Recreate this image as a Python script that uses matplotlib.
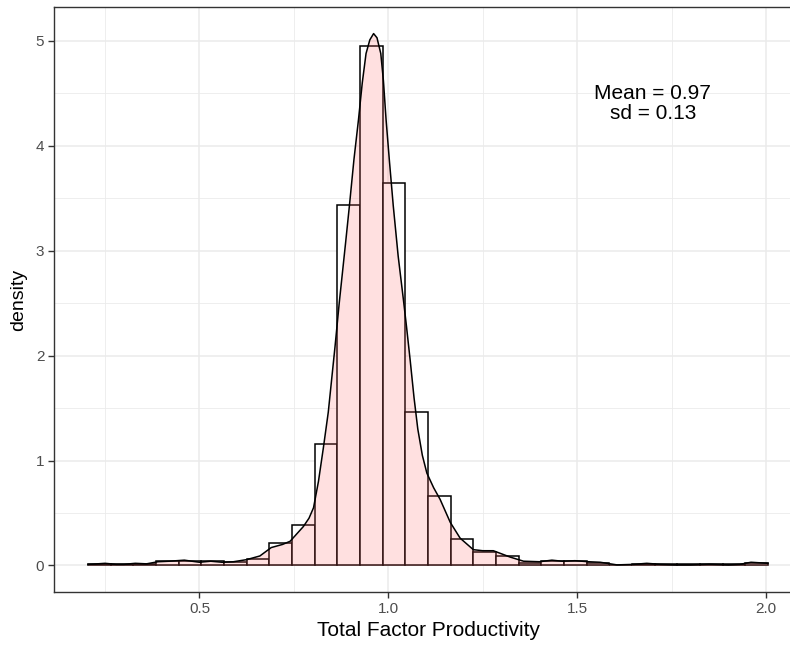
import matplotlib
matplotlib.use("Agg")
import matplotlib.pyplot as plt
import numpy as np

#--- Data
bin_start = 0.205
bin_width = 0.06
hist_density = [0.01, 0.01, 0.01, 0.04, 0.04, 0.04, 0.03, 0.06, 0.21, 0.39,
                1.16, 3.44, 4.95, 3.65, 1.46, 0.66, 0.25, 0.13, 0.09, 0.02,
                0.04, 0.04, 0.02, 0.005, 0.01, 0.01, 0.01, 0.01, 0.01, 0.02]

kde_x = [0.205, 0.23, 0.25, 0.28, 0.30, 0.33, 0.36, 0.39, 0.42, 0.46, 0.50,
         0.53, 0.56, 0.59, 0.625, 0.66, 0.69, 0.72, 0.74, 0.76, 0.775, 0.79,
         0.802, 0.815, 0.828, 0.841, 0.859, 0.870, 0.887, 0.897, 0.909, 0.921,
         0.931, 0.941, 0.951, 0.961, 0.970, 0.980, 0.987, 0.994, 1.003, 1.013,
         1.026, 1.040, 1.048, 1.058, 1.068, 1.078, 1.090, 1.102, 1.12, 1.137,
         1.164, 1.19, 1.225, 1.25, 1.278, 1.30, 1.322, 1.358, 1.40, 1.433,
         1.46, 1.494, 1.53, 1.561, 1.605, 1.65, 1.684, 1.72, 1.76, 1.80, 1.85,
         1.90, 1.93, 1.96, 2.005]
kde_y = [0.01, 0.015, 0.02, 0.01, 0.01, 0.02, 0.015, 0.035, 0.04, 0.05, 0.03,
         0.04, 0.03, 0.035, 0.055, 0.09, 0.17, 0.20, 0.23, 0.31, 0.37, 0.45,
         0.55, 0.80, 1.12, 1.46, 2.09, 2.50, 3.08, 3.43, 3.87, 4.25,
         4.60, 4.88, 5.01, 5.07, 5.03, 4.88, 4.62, 4.25, 3.85, 3.43,
         2.95, 2.53, 2.28, 1.95, 1.60, 1.30, 1.05, 0.88, 0.74, 0.63,
         0.41, 0.26, 0.15, 0.14, 0.14, 0.11, 0.08, 0.04, 0.035, 0.05,
         0.04, 0.045, 0.035, 0.03, 0.005, 0.01, 0.02, 0.01, 0.005, 0.005, 0.012,
         0.005, 0.01, 0.03, 0.02]

mean_val = 0.97
sd_val = 0.13

plt.rcParams['font.family'] = ['Liberation Sans', 'DejaVu Sans']

W, H = 790, 649
fig = plt.figure(figsize=(W / 100, H / 100), dpi=100)
# panel runs a little past the right edge, like the cropped reference
left, right, top, bottom = 54, 802, 7, 592
ax = fig.add_axes([left / W, (H - bottom) / H, (right - left) / W, (bottom - top) / H])

# histogram (white bars, black outline)
edges = bin_start + bin_width * np.arange(len(hist_density) + 1)
ax.bar(edges[:-1], hist_density, width=bin_width, align='edge',
       color='white', edgecolor='black', linewidth=1.1, zorder=2)

# density on top with translucent fill
ax.fill_between(kde_x, 0, kde_y, color='#FF6666', alpha=0.2, linewidth=0, zorder=3)
ax.plot(kde_x, kde_y, color='black', linewidth=1.1, zorder=4, solid_joinstyle='round')

ax.text(1.70, 4.4, f"Mean = {mean_val:.2f}\nsd = {sd_val:.2f}", ha='center', va='center',
        fontsize=15, color='black', linespacing=1.05, zorder=5)

ax.set_xlim(0.115, 2.095)
ax.set_ylim(-0.2535, 5.3235)

ax.set_xticks([0.5, 1.0, 1.5, 2.0])
ax.set_xticklabels(["0.5", "1.0", "1.5", "2.0"])
ax.set_xticks([0.25, 0.75, 1.25, 1.75], minor=True)
ax.set_yticks([0, 1, 2, 3, 4, 5])
ax.set_yticks([0.5, 1.5, 2.5, 3.5, 4.5], minor=True)

ax.grid(which='major', color='#EBEBEB', linewidth=1.1, zorder=0)
ax.grid(which='minor', color='#EBEBEB', linewidth=0.6, zorder=0)
ax.set_axisbelow(True)

for s in ax.spines.values():
    s.set_color('#333333')
    s.set_linewidth(1.0)

ax.tick_params(which='major', length=4, width=1.0, color='#333333',
               labelcolor='#4D4D4D', labelsize=11, pad=3)
ax.tick_params(which='minor', length=0)

ax.set_xlabel("Total Factor Productivity", fontsize=15, labelpad=4)
ax.set_ylabel("density", fontsize=14, labelpad=6)

fig.savefig("out.png", dpi=100)
